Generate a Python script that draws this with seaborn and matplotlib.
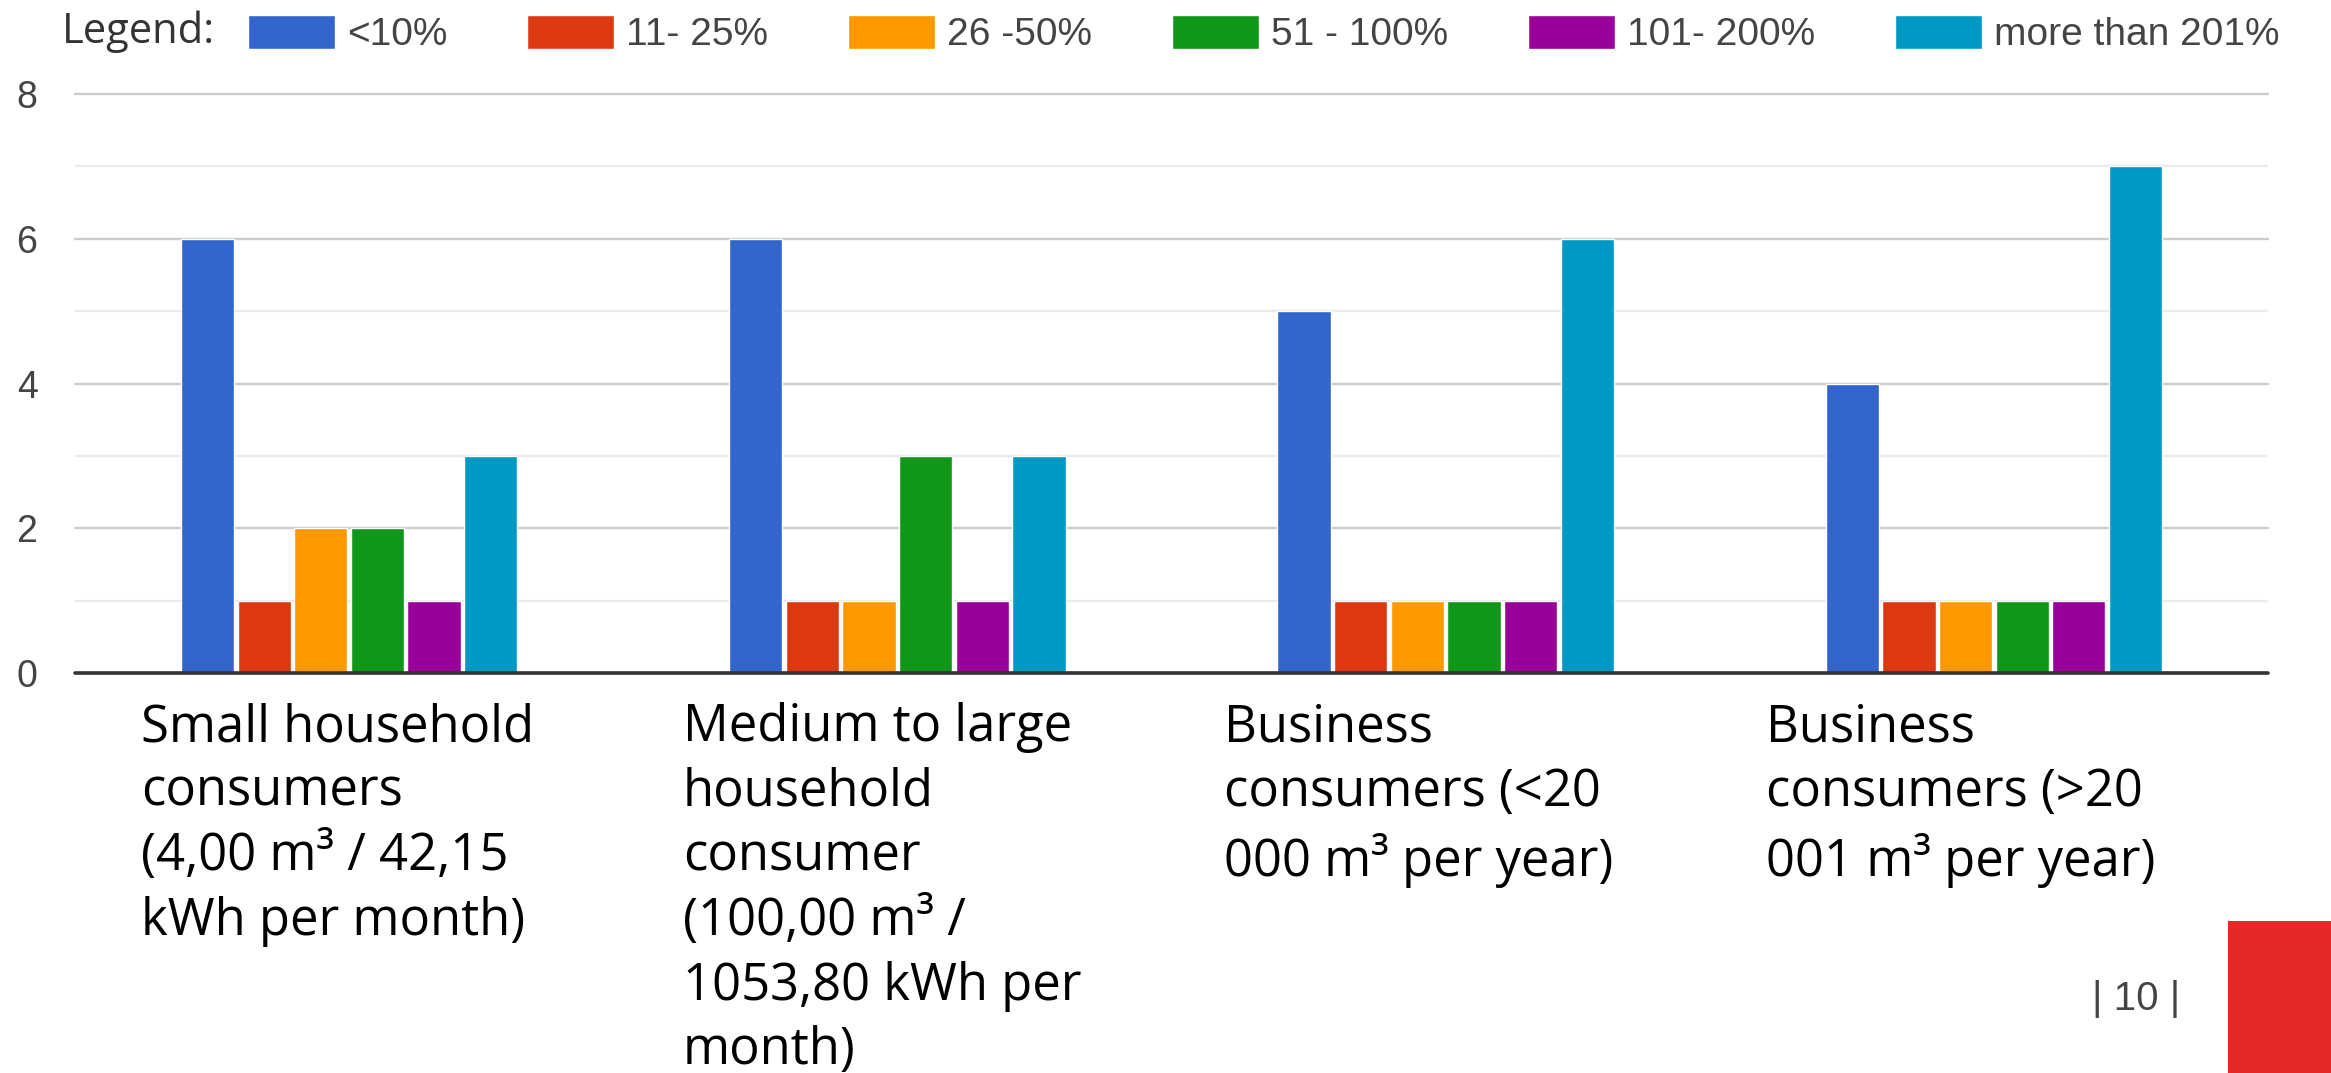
import pandas as pd
import matplotlib.pyplot as plt
from matplotlib.patches import Rectangle
from matplotlib.transforms import ScaledTranslation
import seaborn as sns

# survey answers: how much would the price increase be acceptable
categories = ['Small household', 'Medium to large household',
              'Business <20 000', 'Business >20 001']
tick_labels = [
    'Small household\nconsumers\n(4,00 m³ / 42,15\nkWh per month)',
    'Medium to large\nhousehold\nconsumer\n(100,00 m³ /\n1053,80 kWh per\nmonth)',
    'Business\nconsumers (<20\n000 m³ per year)',
    'Business\nconsumers (>20\n001 m³ per year)',
]
ranges = ['<10%', '11- 25%', '26 -50%', '51 - 100%', '101- 200%', 'more than 201%']
range_colors = ['#3366cc', '#dc3912', '#ff9900', '#109618', '#990099', '#0099c6']

small_household = [6, 1, 2, 2, 1, 3]
medium_household = [6, 1, 1, 3, 1, 3]
business_small = [5, 1, 1, 1, 1, 6]
business_large = [4, 1, 1, 1, 1, 7]

rows = []
for cat, vals in zip(categories, [small_household, medium_household, business_small, business_large]):
    for rng, v in zip(ranges, vals):
        rows.append({'category': cat, 'range': rng, 'count': v})
df = pd.DataFrame(rows)

sns.set_style('white')
plt.rcParams['font.family'] = ['Liberation Sans', 'DejaVu Sans']

W, H = 2331, 1073
fig = plt.figure(figsize=(W / 100, H / 100), dpi=100)
ax = fig.add_axes([75 / W, 1 - 673 / H, 2193 / W, 579 / H])

sns.barplot(
    data=df,
    x='category',
    y='count',
    hue='range',
    palette=range_colors,
    saturation=1,
    width=0.62,
    gap=0.06,
    errorbar=None,
    ax=ax
)

ax.set_ylim(0, 8)
ax.set_xlim(-0.5, 3.5)
ax.set_axisbelow(True)
for spine in ax.spines.values():
    spine.set_visible(False)

# gridlines - darker on the labelled values
ax.set_yticks([0, 2, 4, 6, 8])
ax.set_yticks([1, 3, 5, 7], minor=True)
ax.grid(axis='y', which='major', color='#cccccc', linewidth=1.7)
ax.grid(axis='y', which='minor', color='#ebebeb', linewidth=1.7)
ax.grid(axis='x', visible=False)
for line in ax.get_ygridlines():
    line.set_clip_on(False)
ax.axhline(0, color='#333333', linewidth=2.6, clip_on=False, zorder=3)

ax.tick_params(axis='y', which='both', length=0, pad=27, labelsize=27, labelcolor='#444444')
ax.tick_params(axis='x', length=0, pad=21)
ax.set_xlabel('')
ax.set_ylabel('')

ax.set_xticks(range(len(categories)))
ax.set_xticklabels(tick_labels, ha='left', fontsize=36.5, family='Open Sans',
                   linespacing=1.35, color='black')
for i, label in enumerate(ax.get_xticklabels()):
    label.set_transform(label.get_transform()
                        + ScaledTranslation(-(2.08 + 0.067 * i), 0, fig.dpi_scale_trans))

# legend on top row
handles, labels = ax.get_legend_handles_labels()
ax.get_legend().remove()
fig.legend(
    handles, labels,
    loc='center left',
    bbox_to_anchor=(248 / W, 1 - 34 / H),
    ncol=6,
    frameon=False,
    fontsize=28,
    handlelength=2.24,
    handleheight=1.0,
    handletextpad=0.31,
    columnspacing=2.05,
    borderpad=0,
    borderaxespad=0,
    labelcolor='#444444'
)
fig.text(62 / W, 1 - 32 / H, 'Legend:', ha='left', va='center',
         fontsize=30, color='#333333', family='Open Sans')

# slide decorations
fig.text(2136 / W, 1 - 999 / H, '| 10 |', ha='center', va='center',
         fontsize=29, color='#444444')
fig.add_artist(Rectangle((2228 / W, 0), 103 / W, 152 / H,
                         transform=fig.transFigure, facecolor='#e22828', edgecolor='none'))

fig.savefig('out.png', dpi=100)
